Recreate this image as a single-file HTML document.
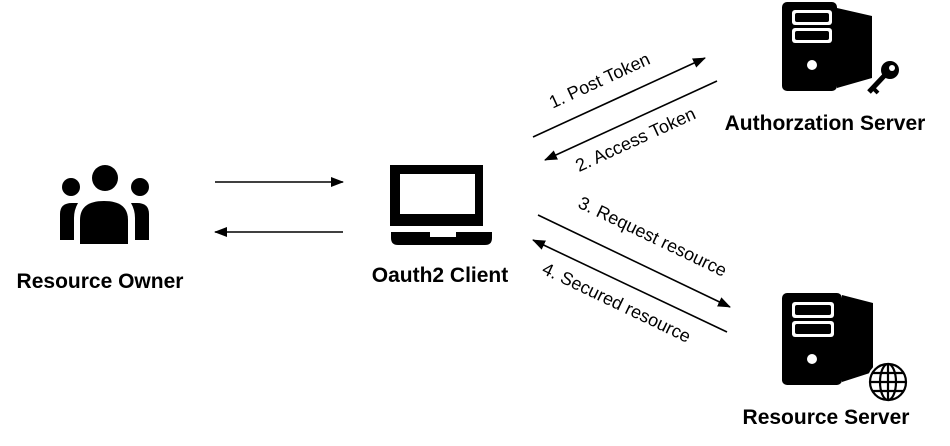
<!DOCTYPE html>
<html><head><meta charset="utf-8"><style>
html,body{margin:0;padding:0;background:#fff;}
svg{display:block;}
text{font-family:"Liberation Sans","Noto Sans CJK KR",sans-serif;fill:#000;}
.b{font-weight:bold;font-size:21px;}
.l{font-size:18px;}
</style></head><body>
<svg width="950" height="446" viewBox="0 0 950 446" xmlns="http://www.w3.org/2000/svg">
<defs>
<marker id="ah" markerWidth="13" markerHeight="10" refX="12" refY="5" orient="auto" markerUnits="userSpaceOnUse">
<path d="M0,0 L13,5 L0,10 z" fill="#000"/></marker>
</defs>
<!-- people -->
<circle cx="105" cy="178" r="13" fill="#000"/>
<circle cx="71" cy="187" r="9" fill="#000"/>
<circle cx="140" cy="187" r="9" fill="#000"/>
<path d="M60,240 V214 Q60,203 72,203 H78 Q74,210 74,218 V240 Z" fill="#000"/>
<path d="M149,240 V214 Q149,203 137,203 H131 Q135,210 135,218 V240 Z" fill="#000"/>
<path d="M80,244 V220 Q80,201 104,201 Q128,201 128,220 V244 Z" fill="#000"/>
<text class="b" x="100" y="288" text-anchor="middle">Resource Owner</text>
<!-- arrows left -->
<line x1="215" y1="182" x2="343" y2="182" stroke="#000" stroke-width="1.6" marker-end="url(#ah)"/>
<line x1="343" y1="232" x2="215" y2="232" stroke="#000" stroke-width="1.6" marker-end="url(#ah)"/>
<!-- laptop -->
<rect x="390" y="165" width="93" height="61" fill="#000"/>
<rect x="400" y="174" width="75" height="40" fill="#fff"/>
<path d="M391,232 H492 V238 Q492,245 485,245 H398 Q391,245 391,238 Z" fill="#000"/>
<rect x="430" y="232" width="26" height="5" fill="#fff"/>
<text class="b" x="440" y="282" text-anchor="middle">Oauth2 Client</text>
<!-- auth server -->
<path d="M837,8 L872,16 V78 L837,88 Z" fill="#000"/>
<rect x="782" y="2" width="55" height="89" rx="5" fill="#000"/>
<rect x="792" y="10" width="40" height="15" rx="3" fill="#fff"/>
<rect x="792" y="28" width="40" height="15" rx="3" fill="#fff"/>
<rect x="795" y="13" width="34" height="9" rx="2" fill="#000"/>
<rect x="795" y="31" width="34" height="9" rx="2" fill="#000"/>
<circle cx="812" cy="65" r="5" fill="#fff"/>
<line x1="885" y1="75" x2="869" y2="92" stroke="#000" stroke-width="5"/>
<line x1="873" y1="88" x2="878" y2="93" stroke="#000" stroke-width="4"/>
<circle cx="890" cy="70" r="9" fill="#000"/>
<circle cx="892" cy="68" r="3" fill="#fff"/>
<text class="b" x="825" y="130" text-anchor="middle">Authorzation Server</text>
<!-- arrows 1,2 -->
<line x1="533" y1="137" x2="705" y2="58" stroke="#000" stroke-width="1.6" marker-end="url(#ah)"/>
<line x1="717" y1="81" x2="545" y2="160" stroke="#000" stroke-width="1.6" marker-end="url(#ah)"/>
<text class="l" transform="translate(602,86) rotate(-24.7)" text-anchor="middle">1. Post Token</text>
<text class="l" transform="translate(638,145) rotate(-24.7)" text-anchor="middle">2. Access Token</text>
<!-- arrows 3,4 -->
<line x1="538" y1="215" x2="730" y2="307" stroke="#000" stroke-width="1.6" marker-end="url(#ah)"/>
<line x1="727" y1="332" x2="533" y2="240" stroke="#000" stroke-width="1.6" marker-end="url(#ah)"/>
<text class="l" transform="translate(650,242) rotate(25.6)" text-anchor="middle">3. Request resource</text>
<text class="l" transform="translate(614,308) rotate(25.6)" text-anchor="middle">4. Secured resource</text>
<!-- resource server -->
<path d="M842,295 L873,303 V372 L842,382 Z" fill="#000"/>
<rect x="782" y="293" width="60" height="92" rx="5" fill="#000"/>
<rect x="792" y="302" width="42" height="16" rx="3" fill="#fff"/>
<rect x="792" y="321" width="42" height="16" rx="3" fill="#fff"/>
<rect x="795" y="305" width="36" height="10" rx="2" fill="#000"/>
<rect x="795" y="324" width="36" height="10" rx="2" fill="#000"/>
<circle cx="812" cy="359" r="5" fill="#fff"/>
<circle cx="888" cy="382" r="21" fill="#fff"/>
<g fill="none" stroke="#000" stroke-width="2.2">
<circle cx="888" cy="382" r="18"/>
<ellipse cx="888" cy="382" rx="8" ry="18"/>
<line x1="888" y1="364" x2="888" y2="400"/>
<line x1="870" y1="382" x2="906" y2="382"/>
<line x1="873" y1="373" x2="903" y2="373"/>
<line x1="873" y1="391" x2="903" y2="391"/>
</g>
<text class="b" x="826" y="424" text-anchor="middle">Resource Server</text>
</svg>
</body></html>
